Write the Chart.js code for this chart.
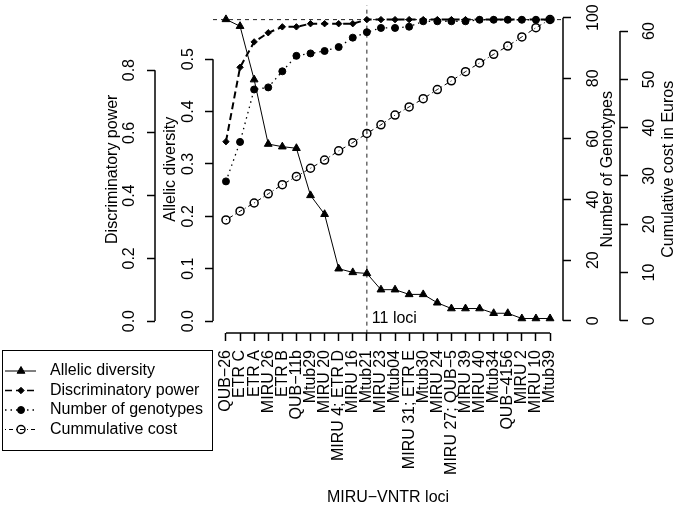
<!DOCTYPE html>
<html>
<head>
<meta charset="utf-8">
<script src="https://cdn.jsdelivr.net/npm/chart.js@4.4.1/dist/chart.umd.min.js"></script>
<style>
  html, body { margin: 0; padding: 0; background: #fff; }
  canvas { display: block; }
</style>
</head>
<body>
<canvas id="loci" width="675" height="507"></canvas>
<script>
// loci in order of decreasing allelic diversity
const loci = ['QUB−26', 'ETR C', 'ETR A', 'MIRU 26', 'ETR B', 'QUB−11b', 'Mtub29', 'MIRU 20',
  'MIRU 4; ETR D', 'MIRU 16', 'Mtub21', 'MIRU 23', 'Mtub04', 'MIRU 31; ETR E', 'Mtub30', 'MIRU 24',
  'MIRU 27; QUB−5', 'MIRU 39', 'MIRU 40', 'Mtub34', 'QUB−4156', 'MIRU 2', 'MIRU 10', 'Mtub39'];

const allelicDiversity = [0.576, 0.563, 0.461, 0.338, 0.333, 0.330, 0.240, 0.204, 0.100, 0.093, 0.091, 0.060,
  0.060, 0.051, 0.051, 0.035, 0.024, 0.024, 0.024, 0.015, 0.015, 0.005, 0.005, 0.005];
const discPower = [0.572, 0.809, 0.890, 0.919, 0.938, 0.938, 0.948, 0.948, 0.948, 0.948, 0.961, 0.961,
  0.961, 0.961, 0.961, 0.961, 0.961, 0.961, 0.961, 0.961, 0.961, 0.961, 0.961, 0.961];
const genotypes = [46.0, 59.0, 76.3, 77.0, 82.3, 87.4, 88.2, 89.0, 90.3, 93.4, 95.2, 96.6,
  96.6, 97.0, 98.8, 98.8, 98.8, 98.8, 99.3, 99.3, 99.3, 99.3, 99.3, 99.3];
const cumCost = [20.9, 22.7, 24.4, 26.3, 28.2, 29.9, 31.6, 33.3, 35.2, 36.9, 38.8, 40.6,
  42.6, 44.3, 46.0, 47.9, 49.7, 51.6, 53.4, 55.2, 56.9, 58.8, 60.7, 62.4];

const adTicks = [0, 0.1, 0.2, 0.3, 0.4, 0.5];
const dpTicks = [0, 0.2, 0.4, 0.6, 0.8];
const ngTicks = [0, 20, 40, 60, 80, 100];
const costTicks = [0, 10, 20, 30, 40, 50, 60];

const plateau = 0.961;   // horizontal dashed line (discriminatory power)
const cutLocus = 11;     // vertical dashed line, "11 loci"

const FONT = "'Liberation Sans', Arial, Helvetica, sans-serif";
Chart.defaults.font.family = FONT;
Chart.defaults.font.size = 16;
Chart.defaults.color = '#000';

const xMin = 0.08, xMax = 24.92;
const pts = arr => arr.map((v, i) => ({ x: i + 1, y: v }));

const gridOpts = { drawOnChartArea: false, drawTicks: true, tickLength: 8, tickWidth: 1.5, tickColor: '#000', color: '#000' };

// fixed box size, no extra room for the rotated end labels
function fixBox(s, w, h) {
  if (w) s.width = w;
  if (h) s.height = h;
  s.paddingTop = 0; s.paddingBottom = 0; s.paddingLeft = 0; s.paddingRight = 0;
}

function yAxis(pos, weight, min, max, tickVals, fmt, pad, width, title, titlePad) {
  return {
    type: 'linear', position: pos, weight: weight, min: min, max: max,
    afterBuildTicks: s => { s.ticks = tickVals.map(v => ({ value: v })); },
    afterFit: s => fixBox(s, width, 0),
    ticks: { callback: fmt, minRotation: 90, maxRotation: 90, crossAlign: 'center', padding: pad, autoSkip: false },
    grid: gridOpts,
    border: { display: false },
    title: { display: !!title, text: title, padding: { top: titlePad, bottom: 0 } }
  };
}

// R-style axis lines (first to last tick), right-hand titles, annotation and legend
const rStyle = {
  id: 'rStyle',
  afterDraw(chart) {
    const { ctx, scales, chartArea } = chart;
    ctx.save();
    ctx.strokeStyle = '#000';
    ctx.lineWidth = 1.5;
    const vline = (s, x) => {
      const t = s.ticks;
      ctx.beginPath();
      ctx.moveTo(x, s.getPixelForValue(t[0].value));
      ctx.lineTo(x, s.getPixelForValue(t[t.length - 1].value));
      ctx.stroke();
    };
    vline(scales.yDP, scales.yDP.right);
    vline(scales.yAD, scales.yAD.right);
    vline(scales.yNG, scales.yNG.left);
    vline(scales.yCost, scales.yCost.left);
    const xs = scales.x, xt = xs.ticks;
    ctx.beginPath();
    ctx.moveTo(xs.getPixelForValue(xt[0].value), xs.top);
    ctx.lineTo(xs.getPixelForValue(xt[xt.length - 1].value), xs.top);
    ctx.stroke();

    ctx.fillStyle = '#000';
    ctx.font = '16px ' + FONT;
    const midY = (chartArea.top + chartArea.bottom) / 2;
    const rotText = (txt, x) => {
      ctx.save();
      ctx.translate(x, midY);
      ctx.rotate(-Math.PI / 2);
      ctx.textAlign = 'center';
      ctx.textBaseline = 'middle';
      ctx.fillText(txt, 0, 0);
      ctx.restore();
    };
    rotText('Number of Genotypes', scales.yNG.left + 45);
    rotText('Cumulative cost in Euros', scales.yCost.left + 49);

    ctx.textAlign = 'left';
    ctx.textBaseline = 'alphabetic';
    ctx.fillText('11 loci', xs.getPixelForValue(cutLocus) + 5, scales.yDP.getPixelForValue(0) + 2);

    // legend
    ctx.lineWidth = 1;
    ctx.strokeRect(2.5, 350.5, 210, 100);
    chart.data.datasets.slice(0, 4).forEach((ds, i) => {
      const y = 371 + i * 19.5;
      ctx.save();
      ctx.strokeStyle = '#000';
      ctx.lineWidth = Math.min(ds.borderWidth, 1.5);
      ctx.setLineDash(ds.borderDash || []);
      ctx.beginPath();
      ctx.moveTo(5, y);
      ctx.lineTo(36, y);
      ctx.stroke();
      ctx.setLineDash([]);
      ctx.fillStyle = ds.pointBackgroundColor || '#000';
      ctx.lineWidth = ds.pointBorderWidth || 1;
      Chart.helpers.drawPoint(ctx, { pointStyle: ds.pointStyle, radius: ds.pointRadius, rotation: 0, borderWidth: ds.pointBorderWidth || 1 }, 21, y);
      ctx.restore();
      ctx.fillStyle = '#000';
      ctx.textBaseline = 'middle';
      ctx.fillText(ds.label, 50, y);
    });
    ctx.restore();
  }
};

new Chart(document.getElementById('loci'), {
  type: 'line',
  data: {
    datasets: [
      { label: 'Allelic diversity', data: pts(allelicDiversity), yAxisID: 'yAD',
        borderColor: '#000', backgroundColor: '#000', pointBackgroundColor: '#000', borderWidth: 1,
        pointStyle: 'triangle', pointRadius: 4.5, pointBorderWidth: 1, borderDash: [] },
      { label: 'Discriminatory power', data: pts(discPower), yAxisID: 'yDP',
        borderColor: '#000', backgroundColor: '#000', pointBackgroundColor: '#000', borderWidth: 2,
        borderDash: [7, 4], pointStyle: 'rectRot', pointRadius: 3.2, pointBorderWidth: 1 },
      { label: 'Number of genotypes', data: pts(genotypes), yAxisID: 'yNG',
        borderColor: '#000', backgroundColor: '#000', pointBackgroundColor: '#000', borderWidth: 1.3,
        borderDash: [1.5, 4], pointStyle: 'circle', pointRadius: 3.5, pointBorderWidth: 1 },
      { label: 'Cummulative cost', data: pts(cumCost), yAxisID: 'yCost',
        borderColor: '#000', backgroundColor: 'rgba(0,0,0,0)', pointBackgroundColor: 'rgba(0,0,0,0)', borderWidth: 1,
        borderDash: [1, 3, 4, 3], pointStyle: 'circle', pointRadius: 4, pointBorderWidth: 1.5 },
      { label: 'plateau', data: [{ x: xMin, y: plateau }, { x: xMax, y: plateau }], yAxisID: 'yDP',
        borderColor: '#222', borderWidth: 1, borderDash: [4, 4], pointRadius: 0 },
      { label: 'cut', data: [{ x: cutLocus, y: -0.04 }, { x: cutLocus, y: 1.01 }], yAxisID: 'yDP',
        borderColor: '#222', borderWidth: 1, borderDash: [4, 4], pointRadius: 0 }
    ]
  },
  options: {
    responsive: false,
    animation: false,
    layout: { padding: { left: 103, top: 2.5, right: 0, bottom: 0 } },
    plugins: { legend: { display: false }, tooltip: { enabled: false } },
    elements: { line: { tension: 0 } },
    scales: {
      x: {
        type: 'linear', position: 'bottom', min: xMin, max: xMax,
        afterBuildTicks: s => { s.ticks = loci.map((_, i) => ({ value: i + 1 })); },
        afterFit: s => fixBox(s, 0, 174),
        ticks: { callback: v => loci[v - 1], minRotation: 90, maxRotation: 90, autoSkip: false, padding: 9 },
        grid: gridOpts,
        border: { display: false },
        title: { display: true, text: 'MIRU−VNTR loci', padding: 0 }
      },
      yDP: yAxis('left', 1, -0.0379, 1.006, dpTicks, v => v.toFixed(1), 6, 52, 'Discriminatory power', 0),
      yAD: yAxis('left', 0, -0.0227, 0.6025, adTicks, v => v.toFixed(1), 5.5, 58, 'Allelic diversity', 6),
      yNG: yAxis('right', 0, -4, 104, ngTicks, v => v, 9, 57, '', 0),
      yCost: yAxis('right', 1, -2.52, 65.3, costTicks, v => v, 13, 55, '', 0)
    }
  },
  plugins: [rStyle]
});
</script>
</body>
</html>
